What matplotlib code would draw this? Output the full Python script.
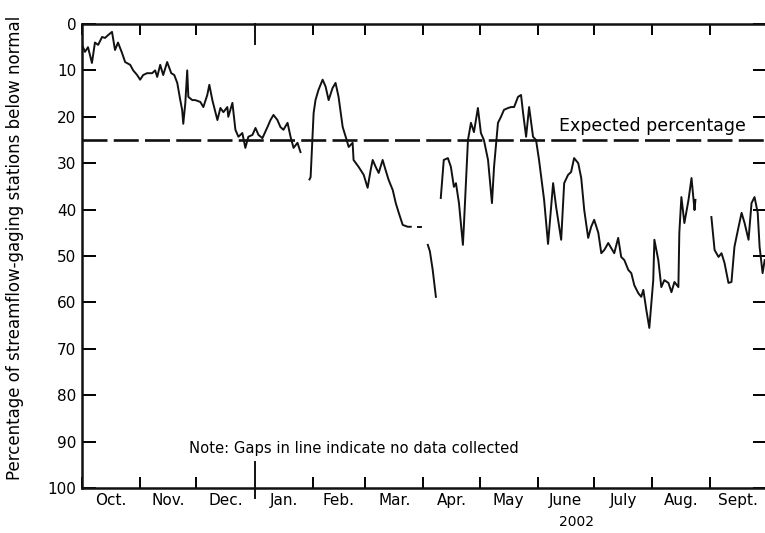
import numpy as np
import pandas as pd
import matplotlib
matplotlib.use("Agg")
import matplotlib.pyplot as plt

plt.rcParams['font.family'] = ['DejaVu Sans']
plt.rcParams['lines.scale_dashes'] = False

# Water year 2002, x = days since Oct. 1, 2001
# Each segment is a run of days with data; gaps between them = no data collected
seg1_days = [0, 1.6, 3.2, 5.3, 6.9, 8.6, 10.7, 12.3, 13.9, 16, 17.6, 19.2, 21.4, 23, 25.7,
             27.3, 29.4, 31, 32.6, 34.7, 37.4, 39, 40.1, 41.7, 43.3, 45.4, 47.6, 49.2, 50.8,
             52.4, 53.4, 54, 55.1, 56.1, 56.7, 58.8, 60.4, 63.1, 64.7, 66.8, 67.9, 69.5, 72.2,
             73.8, 75.4, 77.5, 78, 80.2, 81.8, 83.4, 85.5, 87.1, 88.7, 90.9, 92.5, 94.1, 96.2,
             98.9, 100.5, 102.1, 104.2, 105.8, 107.4, 109.6, 111.2, 112.8, 114.9, 116.5]
seg1_pct = [4.5, 6, 5, 8.4, 4, 4.5, 2.8, 3, 2.4, 1.7, 5.6, 4, 6.3, 8.2, 8.8,
            10, 11, 12, 11, 10.6, 10.6, 10, 11.4, 8.8, 11, 8.2, 10.6, 11, 12.7,
            16.4, 18.5, 21.5, 17, 10, 15.7, 16.4, 16.4, 16.8, 17.9, 15.3, 13.1, 16.4, 20.7,
            18.1, 19, 17.9, 20, 17, 22.8, 24.3, 23.5, 26.7, 24.3, 23.9, 22.4, 23.9, 24.6,
            22.2, 20.7, 19.6, 20.7, 22.2, 22.8, 21.3, 24.3, 26.7, 25.6, 27.6]

seg2_days = [121.3, 121.9, 123.5, 124.5, 126.1, 128.3, 129.9, 131.5, 133.6, 135.2, 136.8,
             139, 140.6, 142.2, 144.3, 144.8, 147.5, 150.2, 152.3, 153.9, 155, 156.6, 158.2,
             160.3, 161.9, 163.5, 165.7, 167.3, 168.9, 171, 173.7, 175.3]
seg2_pct = [33.5, 33, 19.2, 16.4, 14.2, 12, 13.5, 16.4, 13.8, 12.7, 15.7,
            22.2, 24.3, 26.5, 25.6, 29.3, 30.8, 32.5, 35.3, 31.5, 29.3, 30.8, 32.1,
            29.3, 31.5, 33.6, 35.8, 38.6, 40.7, 43.3, 43.7, 43.7]

seg3_days = [179, 180.6]
seg3_pct = [43.7, 43.7]

seg4_days = [184.4, 185.5, 187, 188.7]
seg4_pct = [47.6, 49, 53, 58.8]

seg5_days = [191.3, 192.9, 195.1, 196.7, 198.3, 199.4, 201, 203.1, 203.6, 205.8, 207.4, 209,
             211.1, 212.7, 214.3, 216.5, 218.6, 219.7, 221.8, 223.4, 225, 227.2, 228.8, 230.4,
             232.5, 234.1, 235.2, 236.8, 238.4, 240.5, 242.1, 243.7, 246.4, 248.5, 251.2, 252.8,
             255.5, 257.1, 259.2, 260.8, 262.4, 264.6, 266.2, 267.8, 269.9, 271.5, 273.1, 275.3,
             276.9, 278.5, 280.6, 282.2, 283.8, 285.9, 287.5, 289.2, 291.3, 292.9, 294.5, 296.6,
             298.2, 299.3, 300.9, 302.5, 304.6, 305.2, 307.3, 308.9, 310.5, 312.7, 314.3, 315.9,
             318, 318.5, 319.6, 321.2, 323.4, 325, 326.6, 327.1]
seg5_pct = [37.5, 29.3, 28.9, 30.8, 35.1, 34.3, 38.6, 47.6, 43.7, 25, 21.3, 23.3,
            18.1, 23.5, 25, 29.3, 38.6, 30.8, 21.3, 20, 18.5, 18.1, 17.9, 17.9,
            15.7, 15.3, 19.2, 24.3, 17.9, 24.3, 25, 29.3, 37.9, 47.4, 34.3, 39.4,
            46.5, 34.3, 32.5, 31.9, 28.9, 30, 33.2, 40.1, 46.1, 43.7, 42.2, 45,
            49.4, 48.7, 47.2, 48.3, 49.4, 46.1, 50.2, 50.9, 53, 53.7, 56.3, 58,
            58.8, 57.3, 61.6, 65.5, 55.2, 46.5, 50.9, 56.7, 55.2, 55.8, 57.8, 55.6,
            56.7, 45, 37.3, 42.9, 37.9, 33.2, 40.1, 37.9]

seg6_days = [335.6, 337.3, 339.4, 341, 342.6, 344.7, 346.3, 347.9, 350.1, 351.7, 353.3,
             355.4, 357, 358.6, 360.3, 361.3, 362.9, 364]
seg6_pct = [41.6, 48.7, 50.2, 49.4, 51.5, 55.8, 55.6, 48, 43.7, 40.7, 42.9,
            46.5, 38.6, 37.3, 40.7, 48, 53.7, 50.9]

segments = [(seg1_days, seg1_pct), (seg2_days, seg2_pct), (seg3_days, seg3_pct),
            (seg4_days, seg4_pct), (seg5_days, seg5_pct), (seg6_days, seg6_pct)]

expected_pct = 25
month_names = ['Oct.', 'Nov.', 'Dec.', 'Jan.', 'Feb.', 'Mar.', 'Apr.', 'May', 'June',
               'July', 'Aug.', 'Sept.']

start = pd.Timestamp('2001-10-01')
month_starts = (pd.date_range('2001-10-01', '2002-10-01', freq='MS') - start).days.values
month_mids = (month_starts[:-1] + month_starts[1:]) / 2
jan_day = month_starts[3]

fig = plt.figure(figsize=(7.65, 5.33), dpi=100)
ax = fig.add_axes([82 / 765, 45 / 533, 683 / 765 + 0.002, 464 / 533])

for d, p in segments:
    ax.plot(d, p, color='#111111', lw=1.4, solid_joinstyle='round')

ax.axhline(expected_pct, color='#111111', lw=1.9, dashes=(18, 4.5))
ax.text(254.5, 22, 'Expected percentage', fontsize=12.5, ha='left', va='center')
ax.text(57, 91.4, 'Note: Gaps in line indicate no data collected', fontsize=10.6,
        ha='left', va='center')

ax.set_xlim(0, 365)
ax.set_ylim(100, 0)
ax.set_yticks(np.arange(0, 101, 10))
ax.set_xticks([m for m in month_starts if m != jan_day])
ax.set_xticklabels([])
ax.tick_params(axis='x', which='major', direction='in', length=8, width=1.4,
               top=True, bottom=True)
ax.tick_params(axis='y', direction='in', length=10, width=1.4, left=True, right=True,
               labelsize=11, pad=4)

# longer tick marking the start of calendar year 2002
ax.axvline(jan_day, ymin=-0.022, ymax=0.055, color='#111111', lw=1.4, clip_on=False)
ax.axvline(jan_day, ymin=1 - 0.043, ymax=1, color='#111111', lw=1.4, clip_on=False)

xtrans = ax.get_xaxis_transform()
for mid, name in zip(month_mids, month_names):
    ax.text(mid, -0.028, name, transform=xtrans, ha='center', va='center', fontsize=11)
ax.text(263.5, -0.073, '2002', transform=xtrans, ha='center', va='center', fontsize=10)

ax.set_ylabel('Percentage of streamflow-gaging stations below normal', fontsize=12)
ax.yaxis.set_label_coords(-0.084, 0.517)

for side in ['left', 'bottom', 'top', 'right']:
    ax.spines[side].set_linewidth(1.8)
    ax.spines[side].set_color('#111111')

fig.savefig('out.png', dpi=100)
